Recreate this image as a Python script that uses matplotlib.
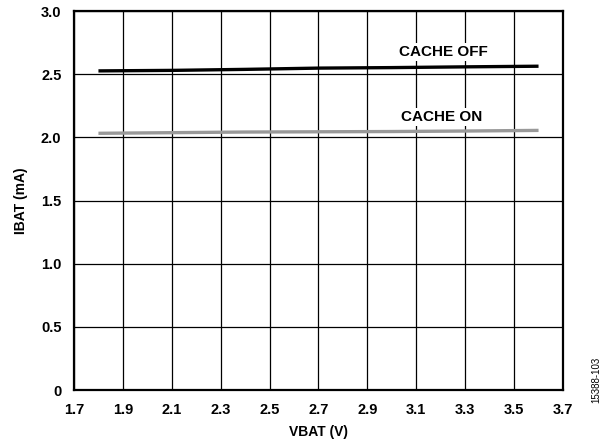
import matplotlib
matplotlib.use("Agg")
import matplotlib.pyplot as plt

# supply voltage sweep and battery current readings
vbat = [1.8, 2.1, 2.4, 2.7, 3.0, 3.3, 3.6]
ibat_cache_off = [2.526, 2.530, 2.538, 2.548, 2.552, 2.558, 2.563]
ibat_cache_on = [2.032, 2.037, 2.042, 2.044, 2.046, 2.050, 2.055]

xticks = [1.7, 1.9, 2.1, 2.3, 2.5, 2.7, 2.9, 3.1, 3.3, 3.5, 3.7]
yticks = [0, 0.5, 1.0, 1.5, 2.0, 2.5, 3.0]
ytick_labels = ["0", "0.5", "1.0", "1.5", "2.0", "2.5", "3.0"]

plt.rcParams['font.family'] = ['Liberation Sans', 'DejaVu Sans']

fig = plt.figure(figsize=(6.02, 4.42), dpi=100)
ax = fig.add_axes([0.1229, 0.1176, 0.8123, 0.8575])

ax.plot(vbat, ibat_cache_off, color='black', lw=2.4, solid_capstyle='butt', zorder=3)
ax.plot(vbat, ibat_cache_on, color='#999999', lw=2.4, solid_capstyle='butt', zorder=3)

ax.text(3.21, 2.675, "CACHE OFF", ha='center', va='center', fontsize=11,
        fontweight='bold', zorder=4,
        bbox=dict(facecolor='white', edgecolor='none', pad=1.5))
ax.text(3.205, 2.16, "CACHE ON", ha='center', va='center', fontsize=11,
        fontweight='bold', zorder=4,
        bbox=dict(facecolor='white', edgecolor='none', pad=1.5))

ax.set_xlim(1.7, 3.7)
ax.set_ylim(0, 3.0)
ax.set_xticks(xticks)
ax.set_xticklabels(["%.1f" % v for v in xticks])
ax.set_yticks(yticks)
ax.set_yticklabels(ytick_labels)
ax.tick_params(length=0, pad=9, labelsize=10.5)
for lab in ax.get_xticklabels() + ax.get_yticklabels():
    lab.set_fontweight('bold')

ax.grid(True, color='black', lw=0.9)
ax.set_axisbelow(True)
for s in ax.spines.values():
    s.set_linewidth(1.6)

ax.set_xlabel("VBAT (V)", fontsize=10, fontweight='bold', labelpad=6)
ax.set_ylabel("IBAT (mA)", fontsize=10, fontweight='bold', labelpad=9)

fig.text(0.990, 0.14, "15388-103", rotation=90, fontsize=7,
         ha='center', va='center')

fig.savefig("out.png", dpi=100)
